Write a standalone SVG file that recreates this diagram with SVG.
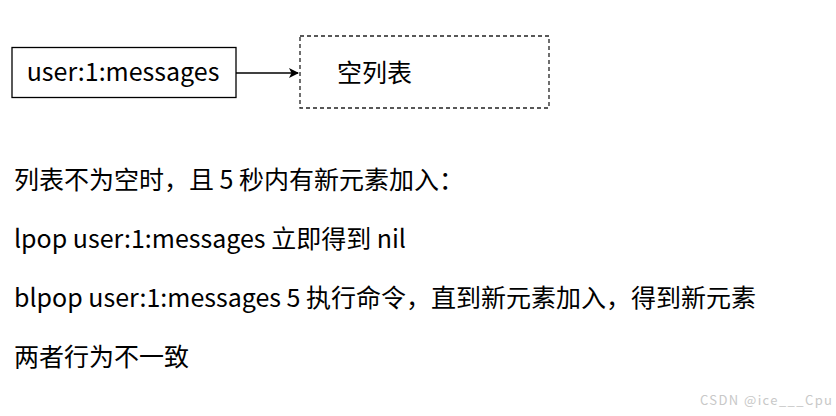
<svg xmlns="http://www.w3.org/2000/svg" width="836" height="416" viewBox="0 0 836 416">
<defs>
<style>
.t{font-family:"Noto Sans CJK SC","Noto Sans",sans-serif;font-size:25px;fill:#000}
.box{fill:#fff;stroke:#000;stroke-width:1.3}
</style>
<marker id="ah" markerWidth="10" markerHeight="10" refX="9" refY="5" orient="auto" markerUnits="userSpaceOnUse">
<path d="M0,0 L10,5 L0,10 L2.5,5 Z" fill="#000"/>
</marker>
</defs>
<rect width="836" height="416" fill="#fff"/>
<g id="key">
<rect class="box" x="12" y="47.5" width="224" height="50"/>
<text class="t" x="123" y="81" text-anchor="middle">user:1:messages</text>
</g>
<g id="empty">
<rect x="300" y="36" width="249" height="72" fill="#fff" stroke="#222" stroke-width="1.3" stroke-dasharray="4,3"/>
<text class="t" x="337" y="82">空列表</text>
</g>
<g id="connectors">
<line x1="236" y1="73" x2="298" y2="73" stroke="#000" stroke-width="1.3" marker-end="url(#ah)"/>
</g>
<g id="notes">
<text class="t" x="14" y="189">列表不为空时，且 5 秒内有新元素加入：</text>
<text class="t" x="14" y="248">lpop user:1:messages 立即得到 nil</text>
<text class="t" x="14" y="307">blpop user:1:messages 5 执行命令，直到新元素加入，得到新元素</text>
<text class="t" x="14" y="366">两者行为不一致</text>
</g>
<text x="700" y="405" font-family="Noto Sans CJK SC,sans-serif" font-size="13" fill="#c8c8c8" textLength="132" lengthAdjust="spacing">CSDN @ice___Cpu</text>
</svg>
